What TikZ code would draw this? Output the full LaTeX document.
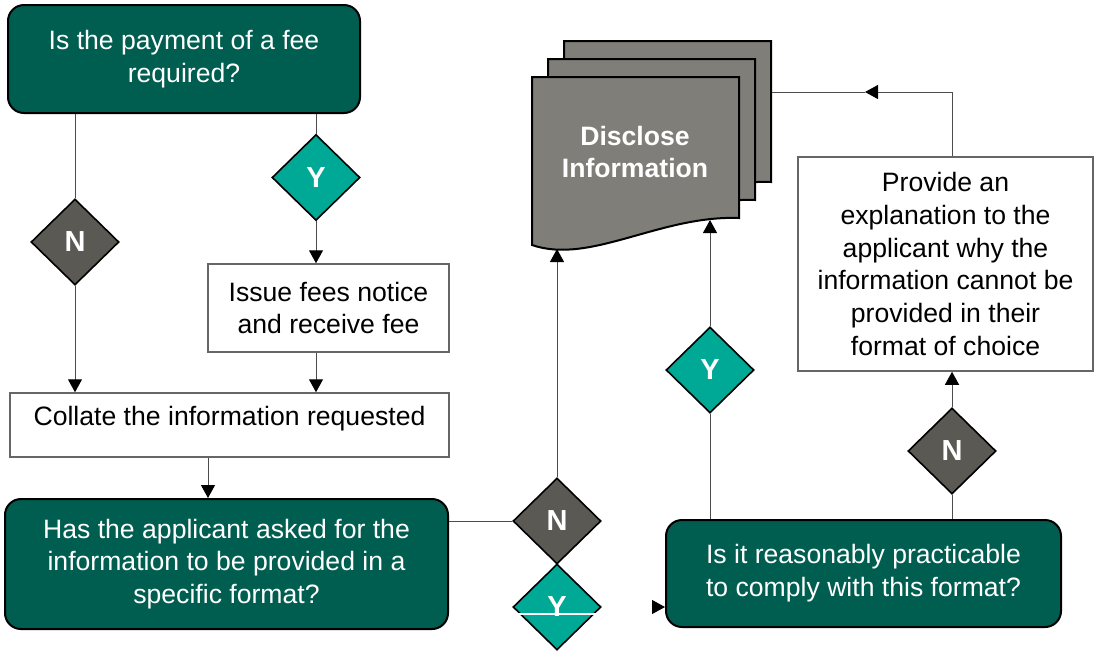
\documentclass[tikz,border=0pt]{standalone}
\usepackage{fontspec}
\setmainfont{Liberation Sans}
\usetikzlibrary{arrows.meta, positioning, shapes.geometric, calc}

\definecolor{qgreen}{HTML}{005E50}
\definecolor{yteal}{HTML}{00A896}
\definecolor{ngray}{HTML}{5A5953}
\definecolor{docgray}{HTML}{7F7E79}

\begin{document}
\begin{tikzpicture}[
      x=0.5pt, y=-0.5pt,
      every node/.style={font=\fontsize{13.3}{16.4}\selectfont, align=center, inner sep=0pt},
      question/.style={draw=black, line width=1pt, fill=qgreen, text=white, rounded corners=8pt},
      action/.style={draw=black!60, line width=0.75pt, fill=white},
      yes/.style={diamond, draw=black, line width=0.8pt, fill=yteal, text=white, font=\fontsize{14.5}{16}\selectfont\bfseries, minimum width=44pt, minimum height=43pt},
      no/.style={yes, fill=ngray},
      docpage/.style={draw=black, line width=1pt, fill=docgray},
      link/.style={draw=black!70, line width=0.5pt},
      arr/.style={link, -{Triangle[length=6.5pt, width=7pt, black]}}
    ]
      \useasboundingbox (0,0) rectangle (1095,650);

      % Question boxes
      \node[question, minimum width=176pt, minimum height=54pt] (feeq) at (184,59) {Is the payment of a fee\\required?};
      \node[question, minimum width=221.5pt, minimum height=65pt] (formatq) at (226.5,564) {Has the applicant asked for the\\information to be provided in a\\specific format?};
      \node[question, minimum width=197.5pt, minimum height=53.5pt] (comply) at (863.5,573.5) {Is it reasonably practicable\\to comply with this format?};

      % Action boxes
      \node[action, minimum width=120.5pt, minimum height=44pt] (issue) at (328.5,308) {Issue fees notice\\and receive fee};
      \node[action, minimum width=219.5pt, minimum height=32pt] (collate) at (229.5,425) {\raisebox{3pt}[\height][\depth]{Collate the information requested}};
      \node[action, minimum width=147.5pt, minimum height=107pt] (explain) at (945.5,264) {Provide an\\explanation to the\\applicant why the\\information cannot be\\provided in their\\format of choice};

      % Disclose information (stacked pages)
      \foreach \dx/\dy in {32/-36, 16/-18, 0/0}
        \draw[docpage, shift={(\dx,\dy)}] (532,77) -- (739,77) -- (739,218) .. controls (660,215) and (590,265) .. (532,245) -- cycle;
      \node[text=white, font=\fontsize{13.3}{16.4}\selectfont\bfseries] (doc) at (635,152) {Disclose\\Information};
      \coordinate (docin1) at (557,249);
      \coordinate (docin2) at (710,220);
      \coordinate (docback) at (772,92);

      % Decisions
      \node[no] (nofee) at (75,242) {\raisebox{-2pt}{N}};
      \node[yes] (yesfee) at (316,177.5) {\raisebox{-2pt}{Y}};
      \node[no] (nofmt) at (557,521) {\raisebox{-2pt}{N}};
      \node[yes] (yesfmt) at (557,607) {\raisebox{-2pt}{Y}};
      \node[yes] (yescomply) at (710,370) {\raisebox{-2pt}{Y}};
      \node[no] (nocomply) at (952,451) {\raisebox{-2pt}{N}};

      % Connectors
      \draw[link] (feeq.south -| nofee) -- (nofee.north);
      \draw[arr] (nofee.south) -- (collate.north -| nofee);
      \draw[link] (feeq.south -| yesfee) -- (yesfee.north);
      \draw[arr] (yesfee.south) -- (issue.north -| yesfee);
      \draw[arr] (issue.south -| yesfee) -- (collate.north -| yesfee);
      \draw[arr] ([xshift=-10.75pt]collate.south) -- ([xshift=-10.75pt]collate.south |- formatq.north);
      \draw[link] (formatq.east |- nofmt) -- (nofmt.west);
      \draw[arr] (nofmt.north) -- (docin1);
      \draw[white, line width=1pt] ([shift={(6,7)}]yesfmt.west) -- ([shift={(-6,7)}]yesfmt.east);
      \draw[white, line width=0.5pt, -{Triangle[length=6.5pt, width=7pt, black]}] (yesfmt.east) -- (comply.west |- yesfmt.east);
      \draw[link] (comply.north -| yescomply) -- (yescomply.south);
      \draw[arr] (yescomply.north) -- (docin2);
      \draw[link] (comply.north -| nocomply) -- (nocomply.south);
      \draw[arr] (nocomply.north) -- (explain.south -| nocomply);
      \draw[arr] (explain.north -| nocomply) |- ([xshift=46.5pt]docback);
      \draw[link] ([xshift=46.5pt]docback) -- (docback);
    \end{tikzpicture}
\end{document}
